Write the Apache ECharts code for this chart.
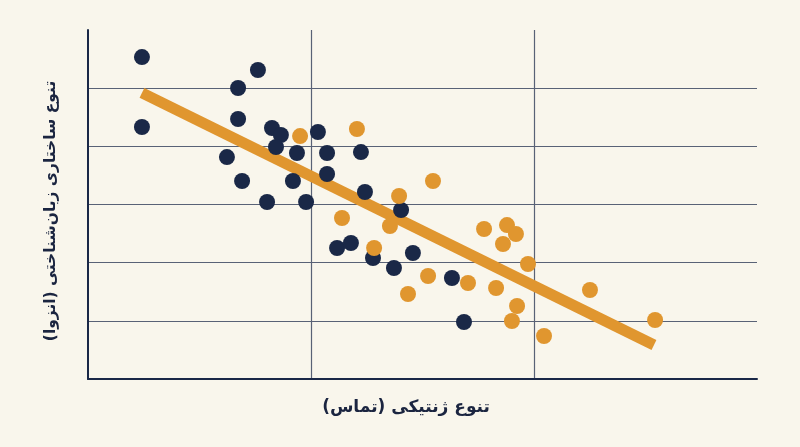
<!DOCTYPE html>
<html><head><meta charset="utf-8">
<script src="https://cdn.jsdelivr.net/npm/echarts@6/dist/echarts.min.js"></script>
<style>html,body{margin:0;padding:0;background:#f9f6ec;}#c{width:800px;height:447px;}</style>
</head><body><div id="c"></div>
<script>
const xTitle = 'تنوع ژنتیکی (تماس)';
const yTitle = 'تنوع ساختاری زبان‌شناختی (انزوا)';
const navyX = [0.242,0.242,0.673,0.762,0.673,0.825,0.865,0.843,0.623,0.691,0.803,0.937,0.919,0.978,1.031,1.072,1.072,1.224,1.242,1.404,1.117,1.179,1.278,1.372,1.457,1.632,1.686];
const navyY = [5.535,4.332,5.003,5.312,4.470,4.315,4.195,3.988,3.816,3.404,3.043,3.885,3.404,3.043,4.246,3.885,3.524,3.902,3.215,2.905,2.252,2.338,2.080,1.908,2.166,1.736,0.980];
const orangeX = [0.951,1.206,1.395,1.547,1.139,1.354,1.283,1.525,1.435,1.704,1.776,1.879,1.919,1.861,1.973,1.830,1.924,1.901,2.045,2.251,2.543];
const orangeY = [4.177,4.298,3.146,3.404,2.768,2.630,2.252,1.771,1.461,1.650,2.579,2.647,2.493,2.321,1.977,1.564,1.255,0.997,0.739,1.530,1.014];
const trendX = [0.242, 2.538];
const trendY = [4.92, 0.585];

const zip = (a,b)=>a.map((v,i)=>[v,b[i]]);
const NAVY = '#1a2847', ORANGE = '#e0962f', GRID = '#596276', TEXT = '#1b2540';
const chart = echarts.init(document.getElementById('c'));
chart.setOption({
  backgroundColor: '#f9f6ec',
  animation: false,
  grid: {left: 88, top: 30, right: 43, bottom: 68},
  xAxis: {type:'value', min:0, max:3, interval:1,
    axisLine:{show:true, onZero:false, lineStyle:{color:NAVY, width:2}},
    axisTick:{show:false}, axisLabel:{show:false},
    splitLine:{show:true, showMinLine:false, showMaxLine:false, lineStyle:{color:GRID, width:1.2}}},
  yAxis: {type:'value', min:0, max:6, interval:1,
    axisLine:{show:true, onZero:false, lineStyle:{color:NAVY, width:2}},
    axisTick:{show:false}, axisLabel:{show:false},
    splitLine:{show:true, showMinLine:false, showMaxLine:false, lineStyle:{color:GRID, width:1.2}}},
  series: [
    {type:'line', data: zip(trendX, trendY), symbol:'none', z:1,
      lineStyle:{color:ORANGE, width:11, cap:'butt'}},
    {type:'scatter', data: zip(navyX, navyY), symbolSize:16, z:3,
      itemStyle:{color:NAVY, opacity:1}},
    {type:'scatter', data: zip(orangeX, orangeY), symbolSize:16, z:3,
      itemStyle:{color:ORANGE, opacity:1}}
  ],
  graphic: [
    {type:'text', x: 406, y: 408, style:{text:xTitle, fill:TEXT, font:'bold 17px "DejaVu Sans"', align:'center', verticalAlign:'middle'}},
    {type:'text', x: 51, y: 211, rotation: Math.PI/2, style:{text:yTitle, fill:TEXT, font:'bold 15.5px "DejaVu Sans"', align:'center', verticalAlign:'middle'}}
  ]
});
</script></body></html>
